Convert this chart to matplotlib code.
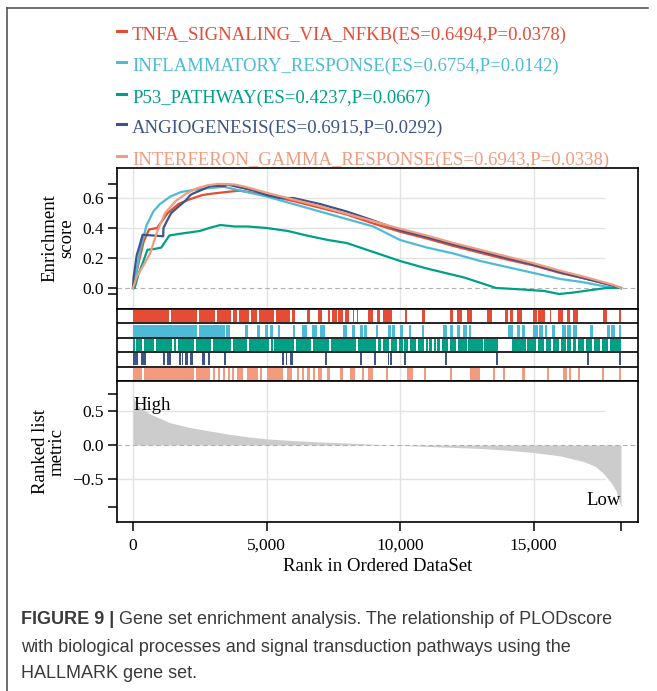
import matplotlib
matplotlib.use("Agg")
import matplotlib.pyplot as plt
from matplotlib.lines import Line2D

# ---- data ----
N = 18274
set_names = ["TNFA_SIGNALING_VIA_NFKB", "INFLAMMATORY_RESPONSE", "P53_PATHWAY",
             "ANGIOGENESIS", "INTERFERON_GAMMA_RESPONSE"]
es_values = [0.6494, 0.6754, 0.4237, 0.6915, 0.6943]
p_values = [0.0378, 0.0142, 0.0667, 0.0292, 0.0338]
colors = ["#E64B35", "#4DBBD5", "#00A087", "#3C5488", "#F39B7F"]

# running enrichment score
tnfa_rank = [0, 100, 250, 400, 600, 900, 1300, 1700, 2100, 2600, 3000, 3500, 4000, 5000,
             6000, 7000, 8000, 9000, 10000, 11000, 12000, 13000, 14000, 15000, 16000, 17000, 18000, N]
tnfa_es = [0, 0.08, 0.20, 0.31, 0.39, 0.40, 0.50, 0.56, 0.59, 0.62, 0.63, 0.64, 0.649, 0.62,
           0.58, 0.535, 0.49, 0.43, 0.375, 0.33, 0.28, 0.235, 0.19, 0.15, 0.10, 0.06, 0.015, 0]

infl_rank = [0, 100, 260, 510, 760, 1010, 1400, 1800, 2300, 2800, 3400, 4000, 5000,
             6000, 7000, 8000, 9000, 10000, 11000, 12000, 13000, 14000, 15000, 16000, 16800, 17700, N]
infl_es = [0, 0.08, 0.25, 0.42, 0.51, 0.56, 0.61, 0.64, 0.655, 0.665, 0.675, 0.65, 0.61,
           0.56, 0.51, 0.46, 0.41, 0.32, 0.27, 0.23, 0.18, 0.14, 0.10, 0.06, 0.04, 0.01, 0]

p53_rank = [0, 60, 200, 390, 540, 800, 1060, 1360, 1700, 2100, 2500, 2850, 3270, 3800, 4300,
            5000, 5800, 6500, 7300, 8000, 9000, 10000, 11000, 12400, 13600, 14600, 15400,
            15960, 16500, 17300, 17730, N]
p53_es = [0, 0.0, 0.09, 0.18, 0.255, 0.26, 0.27, 0.35, 0.36, 0.37, 0.38, 0.40, 0.42, 0.41, 0.41,
          0.40, 0.38, 0.35, 0.32, 0.30, 0.24, 0.18, 0.13, 0.07, 0.0, -0.01, -0.02,
          -0.04, -0.03, -0.01, 0.0, 0]

angio_rank = [0, 20, 140, 260, 360, 1130, 1140, 1280, 1430, 1750, 1950, 2150, 2250, 2650, 2900,
              3450, 3500, 4500, 5000, 5500, 6000, 7000, 8000, 9000, 10000, 11000, 12000, 13000,
              14000, 15000, 16000, 17000, 18000, N]
angio_es = [0, 0.07, 0.22, 0.29, 0.355, 0.345, 0.40, 0.45, 0.50, 0.55, 0.58, 0.62, 0.63, 0.66, 0.68,
            0.68, 0.6915, 0.65, 0.62, 0.60, 0.60, 0.56, 0.51, 0.45, 0.385, 0.34, 0.29, 0.245,
            0.20, 0.155, 0.105, 0.06, 0.015, 0]

ifng_rank = [0, 140, 390, 640, 890, 1200, 1600, 2000, 2400, 2800, 3200, 3800, 4200, 5000,
             6000, 7000, 8000, 9000, 10000, 11000, 12000, 13000, 14000, 15000, 16000, 17000, 18000, N]
ifng_es = [0, 0.075, 0.15, 0.23, 0.37, 0.50, 0.58, 0.63, 0.665, 0.685, 0.6943, 0.69, 0.675, 0.635,
           0.59, 0.545, 0.495, 0.445, 0.395, 0.35, 0.30, 0.255, 0.21, 0.165, 0.115, 0.07, 0.02, 0]

es_ranks = [tnfa_rank, infl_rank, p53_rank, angio_rank, ifng_rank]
es_curves = [tnfa_es, infl_es, p53_es, angio_es, ifng_es]

# hit blocks (start, end) per gene set
tnfa_hits = [(0, 1360), (1420, 2400), (2460, 3080), (3140, 3680), (3740, 3900), (3960, 4350),
             (4410, 4650), (4710, 5290), (5350, 5880), (5960, 6070), (6520, 6630), (6930, 7080),
             (7300, 7380), (7450, 7620), (7690, 7880), (7940, 8090), (8220, 8260), (8370, 8410),
             (8800, 8990), (9140, 9250), (9360, 9700), (10190, 10260), (10820, 10940),
             (11870, 11990), (12130, 12320), (12510, 12700), (13260, 13450), (13930, 14040),
             (14120, 14230), (14380, 14570), (14980, 15130), (15170, 15430), (15600, 15640),
             (15920, 16100), (16250, 16370), (16480, 16670), (17600, 17750), (18200, N)]
infl_hits = [(0, 2400), (2460, 3450), (3500, 3630), (4190, 4300), (4640, 4760), (4940, 5060),
             (5130, 5240), (5430, 5510), (5990, 6070), (6330, 6520), (6700, 6890), (7000, 7190),
             (7870, 8010), (8200, 8310), (8500, 8600), (8660, 8760), (9110, 9170), (9550, 9650),
             (9710, 9810), (10000, 10110), (10340, 10400), (10830, 10890), (11610, 11760),
             (11870, 11990), (12130, 12250), (12360, 12510), (12590, 12650), (14040, 14230),
             (14380, 14500), (14560, 14680), (14980, 15150), (15220, 15350), (15420, 15510),
             (15690, 15810), (16070, 16200), (16260, 16400), (16460, 16630), (17120, 17230),
             (17750, 17850), (17910, 18050), (18200, N)]
p53_hits = [(0, 40), (110, 340), (410, 790), (860, 1460), (1540, 1610), (1690, 2280), (2360, 2920),
            (3000, 3670), (3750, 4260), (4340, 5090), (5170, 5200), (5280, 6030), (6110, 6660),
            (6740, 7340), (7420, 8350), (8430, 9100), (9180, 9300), (9360, 9600), (9660, 9900),
            (9960, 10100), (10160, 10300), (10360, 10600), (10660, 10900), (10960, 11050),
            (11100, 11200), (11260, 11350), (11400, 11500), (11560, 11800), (11860, 12100),
            (12160, 12500), (12560, 13100), (13160, 13670), (14190, 14700), (14760, 15100),
            (15160, 15400), (15460, 15650), (15710, 15950), (16010, 16200), (16260, 16400),
            (16460, 16600), (16660, 16900), (16960, 17200), (17260, 17500), (17560, 17800),
            (17860, N)]
angio_hits = [(0, 180), (300, 470), (1130, 1210), (1280, 1430), (1740, 1790), (1820, 1870),
              (1950, 2060), (2130, 2240), (2600, 2680), (2800, 2900), (3420, 3500), (5570, 5650),
              (5720, 5780), (5860, 5990), (7180, 7250), (8500, 8570), (9040, 9100), (9530, 9600),
              (9640, 9700), (10160, 10220), (11680, 11740), (13610, 13670), (17010, 17070),
              (18200, N)]
ifng_hits = [(0, 340), (410, 2290), (2350, 2880), (3000, 3070), (3180, 3260), (3370, 3450),
             (3560, 3630), (3710, 3750), (3900, 4120), (4270, 4680), (4760, 4830), (5020, 5620),
             (5770, 5960), (6140, 6180), (6330, 6370), (6520, 6630), (6740, 6820), (6930, 7080),
             (7270, 7380), (7750, 7870), (8130, 8310), (8580, 8640), (8800, 8990), (9480, 9540),
             (10260, 10490), (10910, 10970), (11870, 11950), (12620, 13000), (13480, 13560),
             (13860, 13930), (14570, 14680), (15490, 15560), (16100, 16250), (16340, 16400),
             (16670, 16740), (17570, 17630), (18200, N)]
hit_blocks = [tnfa_hits, infl_hits, p53_hits, angio_hits, ifng_hits]

# ranked list metric
metric_rank = [0, 60, 180, 620, 1360, 2100, 2830, 3570, 4300, 5000, 6000, 7000, 8000, 9000,
               10000, 11000, 12000, 13000, 14000, 15000, 16000, 16850, 17300, 17600, 17900,
               18100, N]
metric_val = [0.75, 0.66, 0.58, 0.46, 0.33, 0.26, 0.21, 0.16, 0.12, 0.09, 0.065, 0.045, 0.03,
              0.012, -0.005, -0.02, -0.035, -0.05, -0.075, -0.11, -0.16, -0.24, -0.31, -0.41,
              -0.55, -0.68, -0.91]

x_ticks = [0, 5000, 10000, 15000]
x_ticklabels = ["0", "5,000", "10,000", "15,000"]

# ---- figure ----
W, H = 657, 691
serif = ["Liberation Serif", "DejaVu Serif"]
plt.rcParams["font.family"] = serif
FS = 12.5      # tick labels
LFS = 13.5     # axis titles / legend
fig = plt.figure(figsize=(W / 100, H / 100), dpi=100)


def box(left, top, right, bottom):
    return [left / W, 1 - bottom / H, (right - left) / W, (bottom - top) / H]


xlim = (-600, 18910)
grid_c = "#e3e3e3"

ax1 = fig.add_axes(box(117, 168, 638, 309))
ax2 = fig.add_axes(box(117, 309, 638, 381))
ax3 = fig.add_axes(box(117, 381, 638, 522))

for ax in (ax1, ax2, ax3):
    ax.set_xlim(*xlim)
    for s in ax.spines.values():
        s.set_linewidth(1.2)
        s.set_color("black")
    for xv in x_ticks:
        ax.axvline(xv, color=grid_c, lw=1.0, zorder=0)
    ax.tick_params(axis="both", length=6.5, width=1.1, labelsize=FS, pad=3, color="black")

# enrichment score panel
ax1.set_ylim(-0.14, 0.80)
ax1.hlines([0.2, 0.4, 0.6], xlim[0], 17680, color=grid_c, lw=1.0, zorder=0)
ax1.axhline(0, color="#b0b0b0", lw=0.8, ls=(0, (4, 3)), zorder=1)
for r, e, c in zip(es_ranks, es_curves, colors):
    ax1.plot(r, e, color=c, lw=1.6, zorder=3)
es_min = min(min(e) for e in es_curves)
es_max = max(es_values)
ax1.set_yticks([es_min, 0, 0.2, 0.4, 0.6, es_max])
ax1.set_yticklabels(["", "0.0", "0.2", "0.4", "0.6", ""])
ax1.set_xticks([])
ax1.set_ylabel("Enrichment\nscore", fontsize=LFS, linespacing=0.95, labelpad=5)

# barcode panel
ax2.set_ylim(0, 5)
for i, (blocks, c) in enumerate(zip(hit_blocks, colors)):
    row = 4 - i
    ax2.broken_barh([(s, max(e - s, 60)) for s, e in blocks], (row + 0.08, 0.84),
                    facecolors=c, edgecolor="none", zorder=2)
ax2.hlines([1, 2, 3, 4], xlim[0], xlim[1], color="black", lw=1.2, zorder=3)
ax2.set_xticks([])
ax2.set_yticks([])

# ranked metric panel
ax3.set_ylim(-1.13, 0.94)
ax3.hlines([0.5, -0.5], xlim[0], 17680, color=grid_c, lw=1.0, zorder=0)
ax3.fill_between(metric_rank, metric_val, 0, color="#cccccc", lw=0, zorder=2)
ax3.axhline(0, color="#b0b0b0", lw=0.8, ls=(0, (4, 3)), zorder=3)
ax3.set_yticks([min(metric_val), -0.5, 0, 0.5, max(metric_val)])
ax3.set_yticklabels(["", "\u22120.5", "0.0", "0.5", ""])
ax3.set_xticks(x_ticks + [N])
ax3.set_xticklabels(x_ticklabels + [""])
ax3.tick_params(axis="x", pad=5)
ax3.set_xlabel("Rank in Ordered DataSet", fontsize=LFS, labelpad=3)
ax3.set_ylabel("Ranked list\nmetric", fontsize=LFS, linespacing=0.95, labelpad=5)
ax3.text(0, 0.58, "High", fontsize=LFS, ha="left", va="center", zorder=4)
ax3.text(N, -0.82, "Low", fontsize=LFS, ha="right", va="center", zorder=4)

# legend above the plot
leg_y = [35, 66, 98, 128, 160]
for name, es, p, c, yy in zip(set_names, es_values, p_values, colors, leg_y):
    fig.add_artist(Line2D([117 / W, 126 / W], [1 - (yy - 4) / H] * 2, color=c, lw=2.2))
    fig.text(132 / W, 1 - yy / H, f"{name}(ES={es:.4f},P={p:.4f})", color=c,
             fontsize=LFS, va="center", ha="left", zorder=-1)

# frame
fig.add_artist(Line2D([7 / W, 7 / W], [0, 1 - 8 / H], color="#555555", lw=1.2))
fig.add_artist(Line2D([7 / W, 648 / W], [1 - 8 / H, 1 - 8 / H], color="#555555", lw=1.2))

# caption
sans = ["Liberation Sans", "DejaVu Sans"]
cap_c = "#3a3a3a"
CFS = 13.0
t = fig.text(21 / W, 1 - 620 / H, "FIGURE 9 |", fontsize=CFS, fontweight="bold",
             family=sans, color=cap_c, va="center")
fig.canvas.draw()
bb = t.get_window_extent(fig.canvas.get_renderer())
fig.text(bb.x1 / W + 5 / W, 1 - 620 / H,
         "Gene set enrichment analysis. The relationship of PLODscore",
         fontsize=CFS, family=sans, color=cap_c, va="center")
fig.text(21 / W, 1 - 647 / H,
         "with biological processes and signal transduction pathways using the",
         fontsize=CFS, family=sans, color=cap_c, va="center")
fig.text(21 / W, 1 - 673 / H, "HALLMARK gene set.",
         fontsize=CFS, family=sans, color=cap_c, va="center")

fig.savefig("out.png", dpi=100)
